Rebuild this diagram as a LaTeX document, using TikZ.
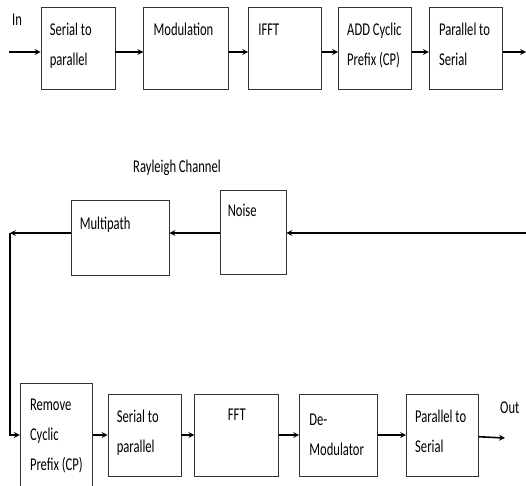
\documentclass[tikz,border=0pt]{standalone}
\usepackage{fontspec}
\setmainfont{Carlito}[FakeStretch=0.7]
\usepackage{tikz}
\usetikzlibrary{positioning}

\begin{document}
\begin{tikzpicture}[
        x=1pt, y=1pt,
        every node/.style={font=\fontsize{18}{30}\selectfont},
        box/.style={rectangle, draw=black!80, line width=0.8pt, minimum height=82pt},
        boxtext/.style={anchor=base west, inner sep=0pt, align=left},
        arrow/.style={->, line width=1.6pt, >=stealth}
    ]
    \useasboundingbox (0,0) rectangle (526,-485);

    %% transmitter
    \node[box, minimum width=74pt] (s2p) at (78,-48) {};
    \node[box, minimum width=85pt, right=28pt of s2p] (mod) {};
    \node[box, minimum width=73pt, right=19pt of mod] (ifft) {};
    \node[box, minimum width=73pt, right=16pt of ifft] (addcp) {};
    \node[box, minimum width=73pt, right=17pt of addcp] (p2s) {};

    % base of a two-line text is its last line
    \node[boxtext] at ([shift={(9pt,-59pt)}]s2p.north west) {Serial to\\parallel};
    \node[boxtext] at ([shift={(10pt,-29pt)}]mod.north west) {Modulation};
    \node[boxtext] at ([shift={(10pt,-29pt)}]ifft.north west) {IFFT};
    \node[boxtext] at ([shift={(9pt,-59pt)}]addcp.north west) {ADD Cyclic\\Prefix (CP)};
    \node[boxtext] at ([shift={(10pt,-59pt)}]p2s.north west) {Parallel to\\Serial};

    \coordinate (txin) at (9,-52);
    \coordinate (txout) at (526,-52);
    \node[anchor=base west, inner sep=0pt] (inlbl) at (12,-25) {In};
    \draw[arrow] (txin) -- (s2p.west |- txin);
    \draw[arrow] (s2p.east |- txin) -- (mod.west |- txin);
    \draw[arrow] (mod.east |- txin) -- (ifft.west |- txin);
    \draw[arrow] (ifft.east |- txin) -- (addcp.west |- txin);
    \draw[arrow] (addcp.east |- txin) -- (p2s.west |- txin);
    \draw[arrow] (p2s.east |- txin) -- (txout);

    %% channel
    \node[anchor=base west, inner sep=0pt] (chlbl) at (133,-172) {Rayleigh Channel};
    \node[box, minimum width=66pt, minimum height=84pt] (noise) at (253,-232) {};
    \node[box, minimum width=98pt, minimum height=75pt] (multi) at (120,-237.5) {};
    \node[boxtext] at ([shift={(8pt,-27pt)}]noise.north west) {Noise};
    \node[boxtext] at ([shift={(9pt,-30pt)}]multi.north west) {Multipath};

    \coordinate (chin) at (526,-233);
    \coordinate (turn) at (10,-233);
    \draw[arrow] (chin) -- (noise.east |- chin);
    \draw[arrow] (noise.west |- chin) -- (multi.east |- chin);
    \draw[arrow] (multi.west |- chin) -- (turn);

    %% receiver
    \node[box, minimum width=73pt] (s2pb) at (144.5,-435) {};
    \node[box, minimum width=72pt, minimum height=104pt, left=15pt of s2pb] (rmcp) {};
    \node[box, minimum width=84pt, right=13pt of s2pb] (fft) {};
    \node[box, minimum width=78pt, right=20pt of fft] (demod) {};
    \node[box, minimum width=72pt, right=28pt of demod] (p2sb) {};

    \node[boxtext] at ([shift={(10pt,-88pt)}]rmcp.north west) {Remove\\Cyclic\\Prefix (CP)};
    \node[boxtext] at ([shift={(9pt,-59pt)}]s2pb.north west) {Serial to\\parallel};
    \node[boxtext, anchor=base] at ([yshift=-27pt]fft.north) {FFT};
    \node[boxtext] at ([shift={(10pt,-62pt)}]demod.north west) {De-\\Modulator};
    \node[boxtext] at ([shift={(9pt,-59pt)}]p2sb.north west) {Parallel to\\Serial};

    \coordinate (rxout) at (505,-438);
    \node[anchor=base west, inner sep=0pt] (outlbl) at (500,-413) {Out};
    \draw[arrow] (turn) |- (rmcp);
    \draw[arrow] (rmcp) -- (s2pb);
    \draw[arrow] (s2pb) -- (fft);
    \draw[arrow] (fft) -- (demod);
    \draw[arrow] (demod) -- (p2sb);
    \draw[arrow] (p2sb) -- (rxout);

\end{tikzpicture}
\end{document}
